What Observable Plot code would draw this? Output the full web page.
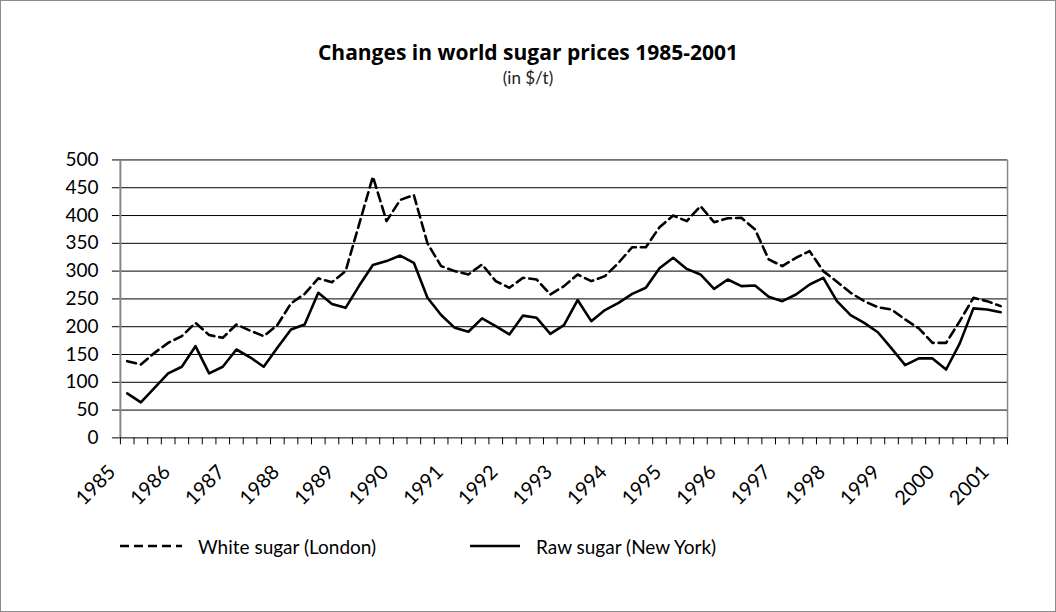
<!DOCTYPE html>
<html><head><meta charset="utf-8">
<script src="https://cdn.jsdelivr.net/npm/d3@7"></script>
<script src="https://cdn.jsdelivr.net/npm/@observablehq/plot@0.6"></script>
<style>
body{margin:0;background:#fff;}
#wrap{position:relative;width:1054px;height:610px;border:1px solid #8c8c8c;font-family:Lato,"Noto Sans",sans-serif;color:#000;overflow:hidden;background:#fff}
#title{position:absolute;top:38px;left:0;width:1054px;text-align:center;font-family:"Open Sans",Lato,sans-serif;font-weight:700;font-size:21px;line-height:26px;color:#000}
#sub{position:absolute;top:67px;left:0;width:1054px;text-align:center;font-family:Lato,sans-serif;font-weight:400;font-size:17px;line-height:20px;color:#222}
#chart{position:absolute;top:110px;left:-1px}
#legend{position:absolute;top:533px;left:0;width:1054px;height:24px;font-size:19px;color:#000}
.item{position:absolute;top:0;display:flex;align-items:center;height:24px}
.item svg{margin-right:16px}
</style></head>
<body>
<div id="wrap">
  <div id="title">Changes in world sugar prices 1985-2001</div>
  <div id="sub">(in $/t)</div>
  <div id="chart"></div>
  <div id="legend">
    <div class="item" style="left:119px"><svg width="62" height="10"><line x1="0" y1="5" x2="62" y2="5" stroke="#000" stroke-width="2.6" stroke-dasharray="9,5"/></svg>White sugar (London)</div>
    <div class="item" style="left:469px"><svg width="50" height="10"><line x1="0" y1="5" x2="50" y2="5" stroke="#000" stroke-width="2.6"/></svg>Raw sugar (New York)</div>
  </div>
</div>
<script>
// Year labels (one every 4 quarters)
const years = ["1985","1986","1987","1988","1989","1990","1991","1992","1993","1994","1995","1996","1997","1998","1999","2000","2001"];
// White sugar (London), $/t, quarterly from 1985 Q1
const white = [138,132,153,171,183,207,185,180,204,193,183,203,242,259,287,280,
  300,385,470,390,428,437,350,309,300,294,312,282,270,288,285,258,
  273,294,282,291,315,343,343,379,400,390,417,388,395,396,375,321,
  309,324,336,300,281,261,246,235,231,213,197,171,171,210,252,246,237];
// Raw sugar (New York), $/t
const raw = [80,64,90,116,128,165,116,128,159,145,128,162,195,204,261,241,
  234,274,311,318,328,315,252,221,198,191,215,201,186,220,216,187,
  203,248,210,230,243,259,270,305,324,304,294,268,285,273,274,254,
  246,258,276,288,246,221,207,190,161,131,143,143,123,170,233,231,226];
const yTicks = [0,50,100,150,200,250,300,350,400,450,500];

const n = white.length;
const boundaries = d3.range(0, n + 1).map(i => i - 0.5);
const yearPos = years.map((_, k) => k * 4);

const chart = Plot.plot({
  width: 1056,
  height: 420,
  marginLeft: 120,
  marginRight: 48,
  marginTop: 48.5,
  marginBottom: 93.3,
  style: {fontFamily: "Lato, 'Noto Sans', sans-serif", fontSize: "19px", color: "#000", background: "transparent"},
  x: {type: "linear", domain: [-0.5, n - 0.5]},
  y: {domain: [0, 500]},
  marks: [
    Plot.gridY(yTicks.slice(1), {stroke: "#000", strokeOpacity: 1, strokeWidth: 1}),
    Plot.axisY(yTicks, {tickSize: 8, tickPadding: 14, stroke: "#000", strokeOpacity: 1, fontSize: 19, label: null}),
    Plot.ruleX([n - 0.5], {stroke: "#888", strokeWidth: 1.5}),
    Plot.ruleX([-0.5], {stroke: "#888", strokeWidth: 2}),
    Plot.axisX(boundaries, {tickSize: 7, tickFormat: () => "", stroke: "#000", strokeOpacity: 1, label: null}),
    Plot.axisX(yearPos, {tickSize: 0, tickPadding: 31, tickRotate: -45, fontSize: 20, dx: -15, tickFormat: i => years[i / 4], label: null}),
    Plot.ruleY([0], {stroke: "#000", strokeWidth: 1}),
    Plot.lineY(white, {x: (d, i) => i, y: d => d, stroke: "#000", strokeWidth: 2.6, strokeDasharray: "9,5"}),
    Plot.lineY(raw, {x: (d, i) => i, y: d => d, stroke: "#000", strokeWidth: 2.6})
  ]
});
document.getElementById("chart").appendChild(chart);
</script>
</body></html>
